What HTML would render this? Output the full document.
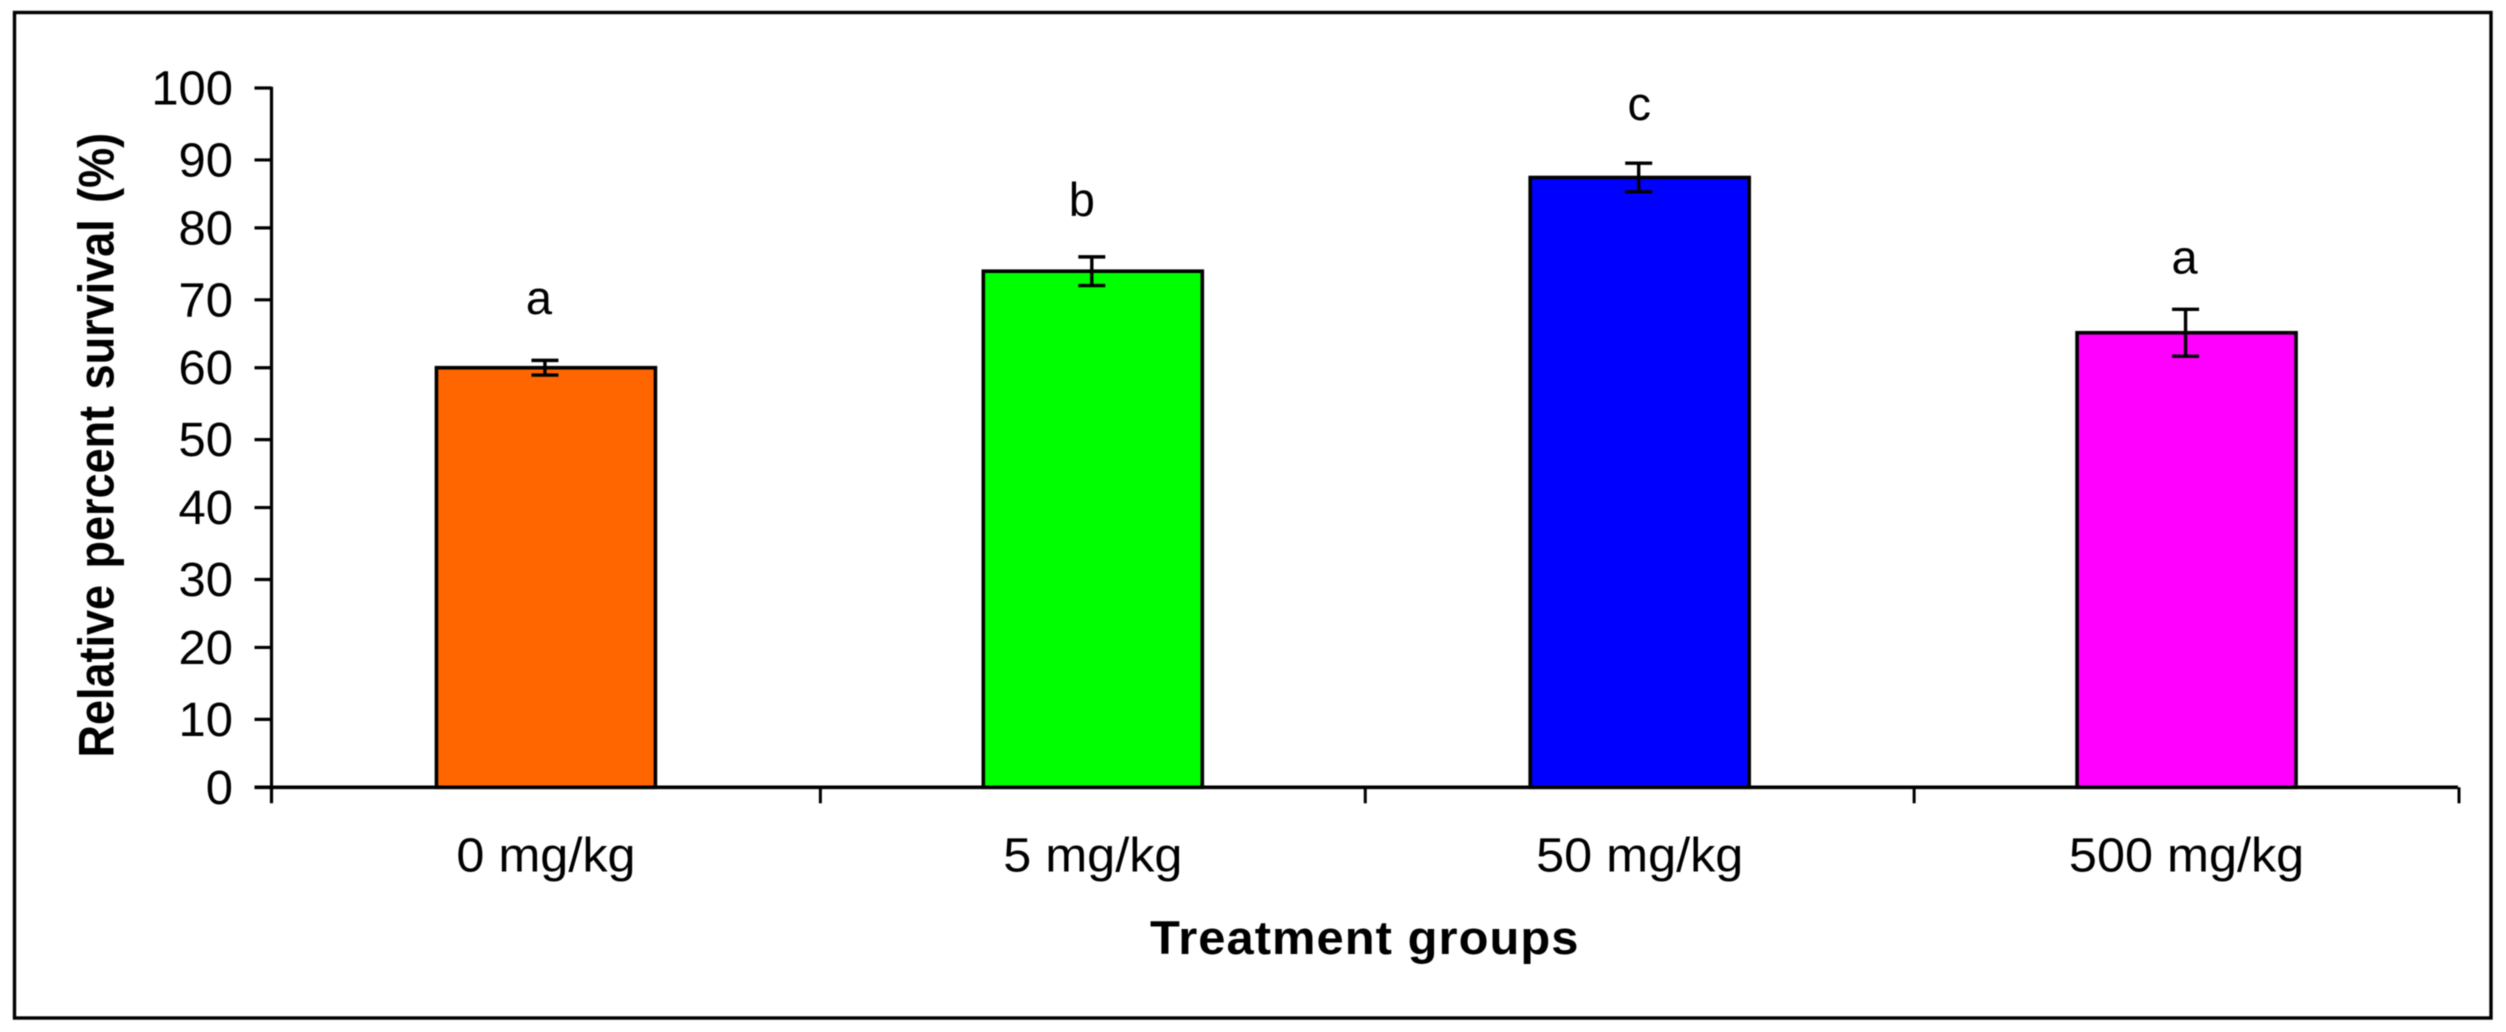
<!DOCTYPE html>
<html lang="en">
<head>
<meta charset="utf-8">
<title>Relative percent survival by treatment group</title>
<style>
  html,body{margin:0;padding:0;background:#fff;}
  body{width:2506px;height:1032px;overflow:hidden;}
  svg{display:block;filter:blur(0.6px);}
  text{font-family:"Liberation Sans",Arial,sans-serif;fill:#000;}
</style>
</head>
<body>
<svg id="chart" xmlns="http://www.w3.org/2000/svg" width="2506" height="1032" viewBox="0 0 2506 1032">
  <rect x="0" y="0" width="2506" height="1032" fill="#fff"/>
  <rect x="14.5" y="12.5" width="2476.5" height="1005.5" fill="none" stroke="#000" stroke-width="3.4"/>
  <g id="marks"></g>
  <text transform="translate(113.5,757.5) rotate(-90) scale(1,1.12)" font-size="45" font-weight="700" word-spacing="4">Relative percent survival (%)</text>
  <text transform="translate(1150,954) scale(1.04,1)" font-size="47" font-weight="700" textLength="412" lengthAdjust="spacing">Treatment groups</text>
</svg>
<script>
const categories = ['0 mg/kg', '5 mg/kg', '50 mg/kg', '500 mg/kg'];
const survival = [60, 73.8, 87.2, 65];
const errors = [1.05, 2.05, 2.05, 3.35];
const letters = ['a', 'b', 'c', 'a'];
const yTicks = [0, 10, 20, 30, 40, 50, 60, 70, 80, 90, 100];

const NS = 'http://www.w3.org/2000/svg';
const marks = document.getElementById('marks');
const plotLeft = 271.5, plotRight = 2459, plotBottom = 787.3, plotTop = 88;
const bandWidth = (plotRight - plotLeft) / categories.length;
const barWidth = 219;

function yScale(v) { return plotBottom - (v / 100) * (plotBottom - plotTop); }
function xCenter(i) { return plotLeft + bandWidth * (i + 0.5); }
function xEdge(i) { return plotLeft + bandWidth * i; }

function line(x1, y1, x2, y2, w) {
  const el = document.createElementNS(NS, 'line');
  el.setAttribute('x1', x1);
  el.setAttribute('y1', y1);
  el.setAttribute('x2', x2);
  el.setAttribute('y2', y2);
  el.setAttribute('stroke', '#000');
  el.setAttribute('stroke-width', w);
  marks.appendChild(el);
  return el;
}

function label(str, x, y, anchor, size, sx) {
  const el = document.createElementNS(NS, 'text');
  el.textContent = str;
  el.setAttribute('transform', 'translate(' + x + ',' + y + ') scale(' + sx + ',1)');
  el.setAttribute('font-size', size);
  el.setAttribute('text-anchor', anchor);
  marks.appendChild(el);
  return el;
}

function draw() {
  const barColors = ['#FF6600', '#00FF00', '#0000FF', '#FF00FF'];
  // annotation placement: horizontal shift from bar centre, gap above the error cap
  const letterPlacement = [[-6, 46.5], [-10, 41], [0.5, 43], [-1, 36]];

  categories.forEach(function (cat, i) {
    const bar = document.createElementNS(NS, 'rect');
    bar.setAttribute('x', xCenter(i) - barWidth / 2 + 1);
    bar.setAttribute('y', yScale(survival[i]));
    bar.setAttribute('width', barWidth);
    bar.setAttribute('height', plotBottom - yScale(survival[i]));
    bar.setAttribute('fill', barColors[i]);
    bar.setAttribute('stroke', '#000');
    bar.setAttribute('stroke-width', '3.6');
    
    
    marks.appendChild(bar);
  });

  const axisY = line(plotLeft, plotTop - 1.3, plotLeft, plotBottom + 16, 3.2);
  
  

  const axisX = line(plotLeft - 17, plotBottom, plotRight - 1, plotBottom, 3.6);
  
  

  yTicks.forEach(function (t) {
    // odd decades sit about 2px low in the source figure
    const y = yScale(t) + (t % 20 === 10 ? 2 : 0);
    const tick = line(plotLeft - 17, y, plotLeft, y, 3.2);
    
    
    const tl = label(String(t), 233, y + 16.5, 'end', 48, 1.02);
    
    
  });

  for (let i = 1; i <= categories.length; i++) {
    // inner ticks at odd positions sit about 2px right in the source figure
    const nudge = i % 2 === 1 && i < categories.length ? 2 : 0;
    const xt = line(xEdge(i) + nudge, plotBottom, xEdge(i) + nudge, plotBottom + 16, 3);
    
    
  }

  categories.forEach(function (cat, i) {
    const xl = label(cat, xCenter(i) + 1, 871.5, 'middle', 48, 1.05);
    
    

    const cx = xCenter(i);
    const hi = yScale(survival[i] + errors[i]);
    const lo = yScale(survival[i] - errors[i]);
    const stem = line(cx, hi, cx, lo, 3.4);
    
    
    const capTop = line(cx - 13.5, hi, cx + 13.5, hi, 3.4);
    
    
    const capBottom = line(cx - 13.5, lo, cx + 13.5, lo, 3.4);
    
    

    const sig = label(letters[i], cx + letterPlacement[i][0], hi - letterPlacement[i][1], 'middle', 47, 1);
    
    
  });
}
draw();
</script>
</body>
</html>
